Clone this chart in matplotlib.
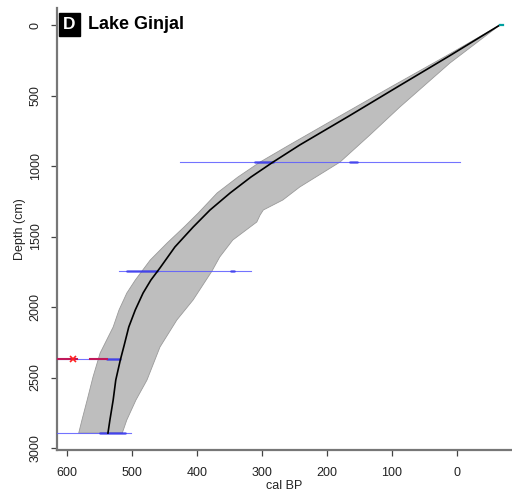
import matplotlib
matplotlib.use("Agg")
import matplotlib.pyplot as plt

plt.rcParams['font.family'] = ['Liberation Sans', 'DejaVu Sans']

# age-depth model: median and 95% envelope (depth in cm, age in cal BP)
median_depth = [0, 220, 440, 645, 851, 972, 1078, 1191, 1312, 1433, 1574, 1723, 1809, 1901, 2021,
                2142, 2270, 2376, 2518, 2660, 2801, 2894]
median_age = [-66, 12, 92, 166, 242, 283, 317, 349, 380, 406, 434, 457, 471, 483, 495,
              505, 512, 518, 525, 529, 534, 537]

old_depth = [0, 220, 440, 645, 851, 972, 1078, 1191, 1333, 1433, 1546, 1667, 1809, 1901, 2021,
             2142, 2326, 2496, 2660, 2801, 2894]
old_age = [-66, 17, 102, 180, 258, 303, 337, 369, 398, 420, 446, 472, 495, 508, 520,
           529, 549, 560, 569, 577, 582]

young_depth = [0, 270, 582, 780, 972, 1149, 1241, 1312, 1348, 1397, 1525, 1645, 1745, 1950, 2092,
               2284, 2518, 2660, 2801, 2894]
young_age = [-66, 11, 88, 134, 180, 242, 268, 298, 303, 308, 345, 365, 377, 406, 431,
             457, 477, 494, 508, 515]

# calibrated dates: full range and the high-probability parts
date_depth = [972, 1745, 2369, 2894]
date_young = [-5, 317, 518, 502]
date_old = [426, 520, 640, 640]
date_peaks = [[(283, 311), (154, 165)], [(462, 508), (343, 347)], [(518, 538)], [(511, 549)]]

# outlier date drawn in red
outlier_depth = 2369
outlier_segments = [(585, 640), (538, 565)]
outlier_mark = 591

surface_depth = 0
surface_age = (-66, -71)

fig = plt.figure(figsize=(5.12, 4.97), dpi=100)
ax = fig.add_axes([57 / 512, 47 / 497, 455 / 512, 442 / 497])

ax.fill(old_age + young_age[::-1], old_depth + young_depth[::-1],
        facecolor='#bebebe', edgecolor='#9a9a9a', lw=0.6, zorder=1)

for d, lo, hi, peaks in zip(date_depth, date_young, date_old, date_peaks):
    ax.plot([lo, hi], [d, d], color='#5a5aff', lw=0.8, alpha=0.85, zorder=3)
    for a, b in peaks:
        ax.plot([a, b], [d, d], color='#2828e6', lw=2.0, alpha=0.6,
                solid_capstyle='round', zorder=3)

for a, b in outlier_segments:
    ax.plot([a, b], [outlier_depth, outlier_depth], color='#c0185a', lw=1.5, zorder=4)
ax.plot([outlier_mark], [outlier_depth], marker='x', color='#ff2020', ms=5, mew=1.2, zorder=5)

ax.plot(median_age, median_depth, color='black', lw=1.2, zorder=4)
ax.plot(surface_age, [surface_depth, surface_depth], color='#00a0a0', lw=1.6, zorder=5)

ax.set_xlim(615.4, -84.6)
ax.set_ylim(3014, -120.6)
ax.set_xticks([600, 500, 400, 300, 200, 100, 0])
ax.set_yticks([0, 500, 1000, 1500, 2000, 2500, 3000])

for side in ['top', 'right']:
    ax.spines[side].set_visible(False)
for side in ['left', 'bottom']:
    ax.spines[side].set_color('#777777')
    ax.spines[side].set_linewidth(1.6)

ax.tick_params(axis='both', length=4, width=0.9, color='#444444',
               labelsize=9, labelcolor='#222222')
ax.tick_params(axis='x', pad=8)
ax.tick_params(axis='y', pad=7)
for lab in ax.get_yticklabels():
    lab.set_rotation(90)
    lab.set_va('center')

ax.set_xlabel('cal BP', fontsize=9, color='#222222', labelpad=1)
ax.set_ylabel('Depth (cm)', fontsize=9, color='#222222', labelpad=3)

fig.text(69.5 / 512, 1 - 24.5 / 497, 'D', color='white', fontsize=12.5, fontweight='bold',
         ha='center', va='center',
         bbox=dict(boxstyle='square,pad=0.25', fc='black', ec='black'))
fig.text(88 / 512, 1 - 24.5 / 497, 'Lake Ginjal', color='black', fontsize=13,
         fontweight='bold', ha='left', va='center')

fig.savefig('out.png', dpi=100)
